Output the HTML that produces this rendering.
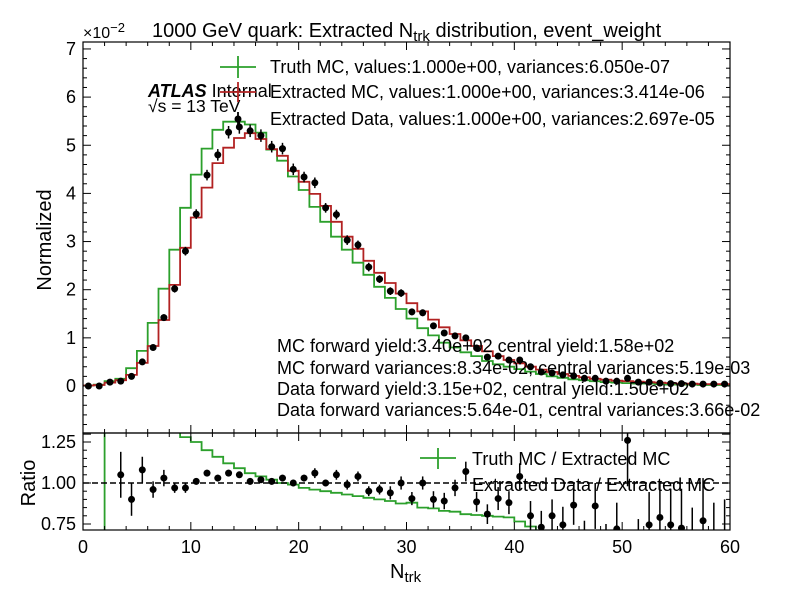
<!DOCTYPE html>
<html><head><meta charset="utf-8"><style>
body{margin:0;background:#fff;}
svg{font-family:"Liberation Sans",sans-serif;}
</style></head><body>
<svg id="chart" width="799" height="599" viewBox="0 0 799 599" xmlns="http://www.w3.org/2000/svg">
<defs>
<clipPath id="cm"><rect x="83" y="42" width="647" height="391"/></clipPath>
<clipPath id="cr"><rect x="83" y="433" width="647" height="97"/></clipPath>
</defs>
<g id="main"></g>
<g id="ratio"></g>
<g id="axes"></g>
<text x="83" y="38" font-size="16">×10<tspan dy="-6" font-size="13">−2</tspan></text>
<text x="152" y="37" font-size="20">1000 GeV quark: Extracted N<tspan dy="4" font-size="15">trk</tspan><tspan dy="-4"> distribution, event_weight</tspan></text>
<text x="148" y="97" font-size="18"><tspan font-weight="bold" font-style="italic">ATLAS</tspan> Internal</text>
<text x="148" y="112" font-size="17.5">√s = 13 TeV</text>
<g font-size="18">
<g><line x1="220" y1="67" x2="256" y2="67" stroke="#2ca02c" stroke-width="1.8"/><line x1="238" y1="56" x2="238" y2="78" stroke="#2ca02c" stroke-width="1.8"/><text x="270" y="73">Truth MC, values:1.000e+00, variances:6.050e-07</text></g>
<g><line x1="220" y1="92" x2="256" y2="92" stroke="#b22222" stroke-width="1.8"/><line x1="238" y1="82" x2="238" y2="102" stroke="#b22222" stroke-width="1.8"/><text x="270" y="98">Extracted MC, values:1.000e+00, variances:3.414e-06</text></g>
<g><line x1="238" y1="112" x2="238" y2="126" stroke="#000" stroke-width="1.8"/><circle cx="238" cy="119" r="3.5"/><text x="270" y="125">Extracted Data, values:1.000e+00, variances:2.697e-05</text></g>
</g>
<g font-size="18">
<text x="277" y="352">MC forward yield:3.40e+02 central yield:1.58e+02</text>
<text x="277" y="374">MC forward variances:8.34e-02, central variances:5.19e-03</text>
<text x="277" y="395">Data forward yield:3.15e+02, central yield:1.50e+02</text>
<text x="277" y="416">Data forward variances:5.64e-01, central variances:3.66e-02</text>
</g>
<g font-size="18">
<g><line x1="420" y1="458" x2="456" y2="458" stroke="#2ca02c" stroke-width="1.8"/><line x1="438" y1="448" x2="438" y2="469" stroke="#2ca02c" stroke-width="1.8"/><text x="472" y="465">Truth MC / Extracted MC</text></g>
<text x="472" y="491">Extracted Data / Extracted MC</text>
</g>
<text transform="translate(51,240) rotate(-90)" text-anchor="middle" font-size="20">Normalized</text>
<text transform="translate(35,483) rotate(-90)" text-anchor="middle" font-size="20">Ratio</text>
<text x="390" y="578" font-size="20">N<tspan dy="4" font-size="15">trk</tspan></text>
</svg>
<script>
const truthMC=[0.01,0.03,0.1,0.15,0.37,0.73,1.31,2.02,2.83,3.7,4.39,4.93,5.32,5.49,5.49,5.43,5.26,4.91,4.68,4.35,4.07,3.72,3.41,3.1,2.83,2.56,2.31,2.06,1.83,1.6,1.4,1.2,1.05,0.9,0.8,0.7,0.62,0.52,0.45,0.4,0.35,0.3,0.25,0.2,0.17,0.14,0.12,0.1,0.08,0.07,0.06,0.05,0.05,0.04,0.03,0.03,0.03,0.02,0.02,0.02];
const extractedMC=[0.01,0.02,0.07,0.12,0.23,0.48,0.83,1.37,2.1,2.87,3.5,4.12,4.63,4.95,5.15,5.25,5.13,4.92,4.78,4.47,4.24,3.99,3.74,3.41,3.1,2.85,2.6,2.35,2.14,1.92,1.72,1.55,1.38,1.22,1.08,0.95,0.83,0.72,0.62,0.54,0.47,0.4,0.34,0.29,0.25,0.21,0.18,0.15,0.13,0.11,0.1,0.09,0.08,0.07,0.06,0.05,0.05,0.04,0.04,0.04];
const dataVals=[0.0,0.0,0.08,0.1,0.2,0.5,0.8,1.42,2.02,2.8,3.57,4.38,4.8,5.27,5.38,5.3,5.2,4.97,4.93,4.5,4.34,4.22,3.7,3.56,3.03,2.93,2.47,2.22,1.97,1.93,1.54,1.52,1.25,1.1,1.04,1.0,0.79,0.6,0.62,0.54,0.54,0.4,0.29,0.27,0.23,0.21,0.16,0.16,0.1,0.1,0.16,0.08,0.08,0.06,0.05,0.05,0.04,0.04,0.04,0.04];
const dataErr=[0.01,0.01,0.02,0.03,0.04,0.05,0.06,0.07,0.08,0.09,0.1,0.11,0.12,0.13,0.14,0.13,0.13,0.12,0.12,0.12,0.11,0.11,0.1,0.1,0.1,0.09,0.09,0.08,0.08,0.08,0.07,0.07,0.06,0.06,0.06,0.06,0.05,0.05,0.05,0.04,0.04,0.04,0.04,0.03,0.03,0.03,0.03,0.03,0.03,0.02,0.02,0.02,0.02,0.02,0.02,0.02,0.02,0.02,0.02,0.02];
const truthRatio=[null,0.5,3.0,2.5,2.2,2.0,1.9,1.7,1.5,1.28,1.25,1.2,1.16,1.12,1.09,1.06,1.04,1.02,1.0,0.99,0.97,0.96,0.95,0.94,0.93,0.92,0.91,0.9,0.89,0.875,0.88,0.85,0.845,0.83,0.825,0.81,0.805,0.8,0.795,0.79,0.765,0.735,0.7,0.68,0.66,0.64,0.62,0.6,0.6,0.6,0.6,0.6,0.6,0.6,0.6,0.6,0.6,0.6,0.6,0.6];
const dataRatio=[null,null,null,1.05,0.9,1.08,0.96,1.03,0.97,0.97,1.01,1.06,1.03,1.06,1.05,1.01,1.02,1.01,1.03,1.0,1.03,1.06,1.0,1.05,0.99,1.04,0.95,0.96,0.94,1.0,0.905,1.0,0.9,0.89,0.97,1.07,0.885,0.81,0.905,0.88,1.04,0.8,0.73,0.8,0.745,0.865,0.65,0.86,0.6,0.72,1.26,0.6,0.745,0.79,0.745,0.725,0.6,0.77,0.6,0.6];
const ratioErr=[0,0,0,0.14,0.1,0.08,0.05,0.05,0.03,0.03,0.02,0.02,0.02,0.02,0.02,0.02,0.02,0.02,0.02,0.02,0.02,0.03,0.02,0.03,0.03,0.03,0.03,0.03,0.04,0.04,0.04,0.04,0.05,0.05,0.05,0.06,0.06,0.06,0.07,0.07,0.08,0.09,0.1,0.1,0.11,0.12,0.12,0.14,0.15,0.16,0.28,0.18,0.2,0.22,0.22,0.24,0.25,0.26,0.28,0.3];
const xTicks=[0,10,20,30,40,50,60];
const yTicks=[0,1,2,3,4,5,6,7];
const rTicks=[0.75,1.00,1.25];

const NS="http://www.w3.org/2000/svg";
const X=v=>83+v*(647/60);
const Y=v=>386-v*48.15;
const R=v=>483-(v-1)*164;
function mk(tag,attrs,parent){const e=document.createElementNS(NS,tag);for(const k in attrs)e.setAttribute(k,attrs[k]);parent.appendChild(e);return e;}
const main=document.getElementById('main'),ratio=document.getElementById('ratio'),axes=document.getElementById('axes');
const gm=mk('g',{'clip-path':'url(#cm)'},main);
const gr=mk('g',{'clip-path':'url(#cr)'},ratio);
function stepPath(vals,Yf){let d='';let started=false;for(let i=0;i<vals.length;i++){if(vals[i]===null){started=false;continue;}const y=Yf(vals[i]).toFixed(1);if(!started){d+=`M${X(i).toFixed(1)},${y}`;started=true;}else d+=`V${y}`;d+=`H${X(i+1).toFixed(1)}`;}return d;}
let p=mk('path',{d:stepPath(truthMC,Y),fill:'none',stroke:'#2ca02c','stroke-width':1.8},gm);


p=mk('path',{d:stepPath(extractedMC,Y),fill:'none',stroke:'#b22222','stroke-width':1.8},gm);


dataVals.forEach((v,i)=>{const cx=X(i+0.5);
 const g=mk('g',{},gm);
 
 
 mk('line',{x1:cx,x2:cx,y1:Y(v-dataErr[i]),y2:Y(v+dataErr[i]),stroke:'#000','stroke-width':1.5},g);
 mk('circle',{cx:cx,cy:Y(v),r:3.5,fill:'#000'},g);});
p=mk('path',{d:stepPath(truthRatio,R),fill:'none',stroke:'#2ca02c','stroke-width':1.8},gr);


const dl=mk('line',{x1:83,x2:730,y1:R(1),y2:R(1),stroke:'#000','stroke-width':1.5,'stroke-dasharray':'6,3'},gr);


dataRatio.forEach((v,i)=>{if(v===null)return;const cx=X(i+0.5);
 const g=mk('g',{},gr);
 
 
 mk('line',{x1:cx,x2:cx,y1:R(v-ratioErr[i]),y2:R(v+ratioErr[i]),stroke:'#000','stroke-width':1.5},g);
 mk('circle',{cx:cx,cy:R(v),r:3.5,fill:'#000'},g);});
mk('rect',{x:83,y:42,width:647,height:391,fill:'none',stroke:'#000','stroke-width':1.2},axes);
mk('rect',{x:83,y:433,width:647,height:97,fill:'none',stroke:'#000','stroke-width':1.2},axes);
function tk(x1,y1,x2,y2){mk('line',{x1,y1,x2,y2,stroke:'#000','stroke-width':1},axes);}
for(let v=0;v<=60;v+=2){const x=X(v),L=(v%10===0)?8:4;tk(x,42,x,42+L);tk(x,433,x,433-L);tk(x,433,x,433+L);tk(x,530,x,530-L);}
for(let v=-1;v<=7.01;v+=0.2){const y=Y(v),maj=Math.abs(v-Math.round(v))<1e-6,L=maj?8:4;tk(83,y,83+L,y);tk(730,y,730-L,y);}
for(let v=0.75;v<=1.3;v+=0.05){const y=R(v),maj=Math.abs((v-0.75)/0.25-Math.round((v-0.75)/0.25))<1e-6,L=maj?8:4;tk(83,y,83+L,y);tk(730,y,730-L,y);}
xTicks.forEach(v=>{const t=mk('text',{x:X(v),y:553,'text-anchor':'middle','font-size':18},axes);t.textContent=v;
 
 });
yTicks.forEach(v=>{const t=mk('text',{x:76,y:Y(v)+6,'text-anchor':'end','font-size':18},axes);t.textContent=v;
 
 });
rTicks.forEach(v=>{const t=mk('text',{x:76,y:R(v)+6,'text-anchor':'end','font-size':18},axes);t.textContent=v.toFixed(2);
 
 });
</script>
</body></html>
